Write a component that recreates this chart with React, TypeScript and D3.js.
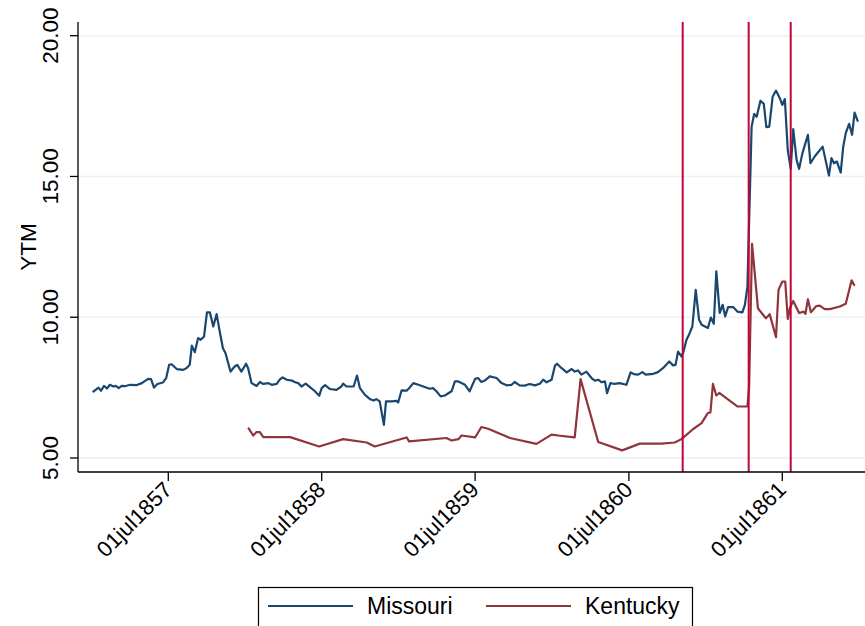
import React from "react";
import * as d3 from "d3";

// Weekly yields to maturity on state bonds (percent)
const missouriDates = [
  "1857-01-02","1857-01-16","1857-01-22","1857-01-29","1857-02-05","1857-02-12","1857-02-20","1857-02-26",
  "1857-03-05","1857-03-12","1857-03-20","1857-04-01","1857-04-17","1857-04-29","1857-05-14","1857-05-21",
  "1857-05-28","1857-06-05","1857-06-18","1857-06-26","1857-07-03","1857-07-09","1857-07-21","1857-08-05",
  "1857-08-13","1857-08-21","1857-08-26","1857-09-02","1857-09-10","1857-09-16","1857-09-24","1857-10-01",
  "1857-10-08","1857-10-16","1857-10-24","1857-11-01","1857-11-08","1857-11-14","1857-11-26","1857-12-06",
  "1857-12-12","1857-12-22","1858-01-02","1858-01-07","1858-01-15","1858-01-27","1858-02-04","1858-02-12",
  "1858-02-24","1858-03-04","1858-03-16","1858-03-23","1858-03-30","1858-04-09","1858-04-21","1858-04-29",
  "1858-05-06","1858-05-14","1858-05-24","1858-06-03","1858-06-15","1858-06-25","1858-07-01","1858-07-09",
  "1858-07-21","1858-08-05","1858-08-17","1858-08-21","1858-08-29","1858-09-15","1858-09-23","1858-09-30",
  "1858-10-12","1858-10-24","1858-11-02","1858-11-08","1858-11-16","1858-11-26","1858-12-01","1858-12-14",
  "1858-12-26","1858-12-30","1859-01-07","1859-01-19","1859-01-25","1859-02-04","1859-02-16","1859-03-03",
  "1859-03-15","1859-03-23","1859-03-31","1859-04-10","1859-04-20","1859-05-06","1859-05-14","1859-05-22",
  "1859-06-07","1859-06-18","1859-07-01","1859-07-08","1859-07-16","1859-07-24","1859-08-05","1859-08-21",
  "1859-09-02","1859-09-14","1859-09-26","1859-10-03","1859-10-15","1859-10-27","1859-11-08","1859-11-20",
  "1859-12-02","1859-12-10","1859-12-18","1859-12-30","1860-01-07","1860-01-12","1860-01-23","1860-02-04",
  "1860-02-16","1860-02-23","1860-03-02","1860-03-10","1860-03-22","1860-04-03","1860-04-11","1860-04-19",
  "1860-04-27","1860-05-05","1860-05-10","1860-05-18","1860-05-28","1860-06-09","1860-06-25","1860-07-05",
  "1860-07-13","1860-07-23","1860-08-02","1860-08-10","1860-08-28","1860-09-08","1860-09-20","1860-10-05",
  "1860-10-14","1860-10-20","1860-10-26","1860-11-03","1860-11-07","1860-11-15","1860-11-21","1860-11-29",
  "1860-12-07","1860-12-15","1860-12-21","1860-12-29","1861-01-05","1861-01-12","1861-01-19","1861-01-25",
  "1861-02-02","1861-02-09","1861-02-15","1861-02-22","1861-03-06","1861-03-16","1861-03-28","1861-04-03",
  "1861-04-09","1861-04-19","1861-04-25","1861-05-01","1861-05-10","1861-05-18","1861-05-24","1861-05-31",
  "1861-06-08","1861-06-16","1861-06-25","1861-07-01","1861-07-07","1861-07-14","1861-07-21","1861-07-27",
  "1861-08-04","1861-08-10","1861-08-18","1861-08-31","1861-09-06","1861-09-16","1861-10-05","1861-10-20",
  "1861-10-26","1861-11-01","1861-11-08","1861-11-17","1861-11-23","1861-11-29","1861-12-07","1861-12-14",
  "1861-12-20","1861-12-28",
];
const missouriYTM = [
  7.34, 7.50, 7.39, 7.56, 7.47, 7.60, 7.54, 7.56,
  7.48, 7.56, 7.55, 7.60, 7.59, 7.66, 7.81, 7.80,
  7.50, 7.63, 7.68, 7.84, 8.31, 8.33, 8.16, 8.13,
  8.19, 8.31, 8.99, 8.76, 9.26, 9.20, 9.31, 10.17,
  10.17, 9.67, 10.11, 9.44, 8.90, 8.73, 8.07, 8.25,
  8.31, 8.07, 8.35, 8.19, 7.66, 7.56, 7.70, 7.63,
  7.66, 7.60, 7.63, 7.78, 7.86, 7.78, 7.75, 7.69,
  7.66, 7.54, 7.64, 7.52, 7.37, 7.21, 7.48, 7.59,
  7.45, 7.42, 7.54, 7.64, 7.54, 7.54, 7.93, 7.48,
  7.24, 7.09, 7.04, 7.09, 7.01, 6.18, 7.01, 7.01,
  7.03, 6.97, 7.40, 7.39, 7.48, 7.66, 7.60, 7.52,
  7.46, 7.48, 7.37, 7.19, 7.22, 7.37, 7.72, 7.72,
  7.60, 7.37, 7.81, 7.84, 7.70, 7.75, 7.90, 7.84,
  7.66, 7.58, 7.60, 7.70, 7.58, 7.57, 7.63, 7.58,
  7.64, 7.78, 7.69, 7.78, 8.28, 8.35, 8.19, 8.04,
  8.16, 8.07, 8.11, 7.96, 8.07, 7.84, 7.75, 7.78,
  7.69, 7.72, 7.30, 7.66, 7.63, 7.66, 7.60, 8.04,
  7.98, 7.96, 8.05, 7.96, 7.99, 8.05, 8.19, 8.43,
  8.29, 8.31, 8.78, 8.61, 8.73, 9.20, 9.38, 9.67,
  10.97, 9.91, 9.73, 9.67, 9.62, 9.99, 9.77, 11.63,
  10.15, 10.44, 10.03, 10.36, 10.36, 10.20, 10.17, 10.44,
  11.09, 16.77, 17.22, 17.12, 17.69, 17.58, 16.75, 16.77,
  17.83, 18.05, 17.78, 17.54, 17.75, 15.94, 15.27, 16.68,
  15.59, 15.27, 15.83, 16.48, 15.47, 15.71, 16.06, 15.03,
  15.65, 15.47, 15.53, 15.14, 16.06, 16.54, 16.87, 16.48,
  17.27, 16.95,
];

const kentuckyDates = [
  "1858-01-07","1858-01-19","1858-01-27","1858-02-04","1858-02-12","1858-04-17","1858-06-25","1858-08-21",
  "1858-10-16","1858-11-04","1859-01-19","1859-01-25","1859-04-24","1859-05-06","1859-05-22","1859-05-30",
  "1859-07-01","1859-07-16","1859-08-01","1859-09-22","1859-11-24","1859-12-30","1860-01-19","1860-02-23",
  "1860-03-08","1860-04-19","1860-06-15","1860-07-27","1860-09-17","1860-10-18","1860-11-03","1860-12-01",
  "1860-12-21","1861-01-05","1861-01-11","1861-01-17","1861-01-25","1861-02-01","1861-03-16","1861-04-09",
  "1861-04-13","1861-04-20","1861-05-04","1861-05-23","1861-06-01","1861-06-16","1861-06-22","1861-07-01",
  "1861-07-08","1861-07-14","1861-07-19","1861-07-27","1861-08-10","1861-08-21","1861-08-25","1861-08-31",
  "1861-09-07","1861-09-20","1861-09-28","1861-10-10","1861-10-22","1861-11-15","1861-11-29","1861-12-13",
  "1861-12-20",
];
const kentuckyYTM = [
  6.08, 5.80, 5.92, 5.92, 5.74, 5.74, 5.41, 5.67,
  5.55, 5.41, 5.73, 5.59, 5.71, 5.62, 5.67, 5.80,
  5.73, 6.10, 6.04, 5.71, 5.50, 5.83, 5.79, 5.73,
  7.80, 5.57, 5.27, 5.51, 5.51, 5.55, 5.67, 6.03,
  6.24, 6.60, 6.62, 7.63, 7.22, 7.31, 6.83, 6.83,
  7.50, 12.61, 10.32, 9.96, 10.11, 9.29, 10.97, 11.27,
  11.27, 9.94, 10.32, 10.58, 10.15, 10.20, 10.12, 10.64,
  10.18, 10.40, 10.41, 10.29, 10.29, 10.38, 10.48, 11.31,
  11.12,
];

// Election of 1860, Fort Sumter, First Bull Run
const eventDates = ["1860-11-06", "1861-04-12", "1861-07-21"];

const xTickDates = ["1857-07-01", "1858-07-01", "1859-07-01", "1860-07-01", "1861-07-01"];
const yTicks = [5, 10, 15, 20];

const seriesNames = ["Missouri", "Kentucky"];
const seriesColors = ["#1a476f", "#90353b"];

const W = 865;
const H = 626;
const plot = { left: 78, right: 865, top: 22, bottom: 472 };
const FONT = "'Liberation Sans', Arial, Helvetica, sans-serif";

const parse = d3.utcParse("%Y-%m-%d");
const fmt = d3.utcFormat("%d%b%Y");

export default function App() {
  const x = d3
    .scaleUtc()
    .domain([parse("1857-07-01")!, parse("1861-07-01")!])
    .range([168.3, 782.3]);
  const y = d3.scaleLinear().domain([5, 20]).range([458, 35.7]);

  const line = d3
    .line<[Date, number]>()
    .x((d) => x(d[0]))
    .y((d) => y(d[1]));

  const missouri: [Date, number][] = missouriDates.map((d, i) => [parse(d)!, missouriYTM[i]]);
  const kentucky: [Date, number][] = kentuckyDates.map((d, i) => [parse(d)!, kentuckyYTM[i]]);
  const series = [missouri, kentucky];

  return (
    <svg
      width={W}
      height={H}
      style={{ position: "absolute", left: 0, top: 0, background: "#fff" }}
      fontFamily={FONT}
    >
      <defs>
        <clipPath id="plot-clip">
          <rect x={plot.left} y={plot.top} width={plot.right - plot.left} height={plot.bottom - plot.top} />
        </clipPath>
      </defs>
      <rect x={0} y={0} width={W} height={H} fill="#fff" />

      {/* horizontal grid */}
      {yTicks.map((t) => (
        <line
          key={"g" + t}
          x1={plot.left}
          x2={plot.right}
          y1={y(t)}
          y2={y(t)}
          stroke="#eaf2f3"
          strokeWidth={1.6}
        />
      ))}

      {/* series */}
      <g clipPath="url(#plot-clip)">
        {series.map((s, i) => (
          <path
            key={seriesNames[i]}
            d={line(s) || ""}
            fill="none"
            stroke={seriesColors[i]}
            strokeWidth={2.2}
            strokeLinejoin="round"
          />
        ))}
        {/* event markers */}
        {eventDates.map((d) => (
          <line
            key={d}
            x1={x(parse(d)!)}
            x2={x(parse(d)!)}
            y1={plot.top}
            y2={plot.bottom}
            stroke="#c10534"
            strokeWidth={2}
          />
        ))}
      </g>

      {/* y axis */}
      <line x1={plot.left} x2={plot.left} y1={plot.top} y2={plot.bottom} stroke="#000" strokeWidth={1.3} />
      {yTicks.map((t) => (
        <g key={"y" + t}>
          <line x1={plot.left - 8} x2={plot.left} y1={y(t)} y2={y(t)} stroke="#000" strokeWidth={1.3} />
          <text
            transform={`translate(58,${y(t)}) rotate(-90)`}
            textAnchor="middle"
            fontSize={22.5}
            fill="#000"
          >
            {t.toFixed(2)}
          </text>
        </g>
      ))}
      <text transform={`translate(36,${(plot.top + plot.bottom) / 2}) rotate(-90)`} textAnchor="middle" fontSize={22.5}>
        YTM
      </text>

      {/* x axis */}
      <line x1={plot.left} x2={plot.right} y1={plot.bottom} y2={plot.bottom} stroke="#000" strokeWidth={1.3} />
      {xTickDates.map((d) => {
        const px = x(parse(d)!);
        return (
          <g key={d}>
            <line x1={px} x2={px} y1={plot.bottom} y2={plot.bottom + 9} stroke="#000" strokeWidth={1.3} />
            <text
              transform={`translate(${px + 5},${plot.bottom + 19}) rotate(-45)`}
              textAnchor="end"
              fontSize={22}
              fill="#000"
            >
              {fmt(parse(d)!).toLowerCase()}
            </text>
          </g>
        );
      })}

      {/* legend */}
      <rect x={258.5} y={587.5} width={434} height={60} fill="#fff" stroke="#000" strokeWidth={1.2} />
      {[268, 486].map((lx, i) => (
        <g key={seriesNames[i]}>
          <line x1={lx} x2={lx + 85} y1={606} y2={606} stroke={seriesColors[i]} strokeWidth={2} />
          <text x={lx + 99} y={614} fontSize={23} fill="#000">
            {seriesNames[i]}
          </text>
        </g>
      ))}
    </svg>
  );
}
